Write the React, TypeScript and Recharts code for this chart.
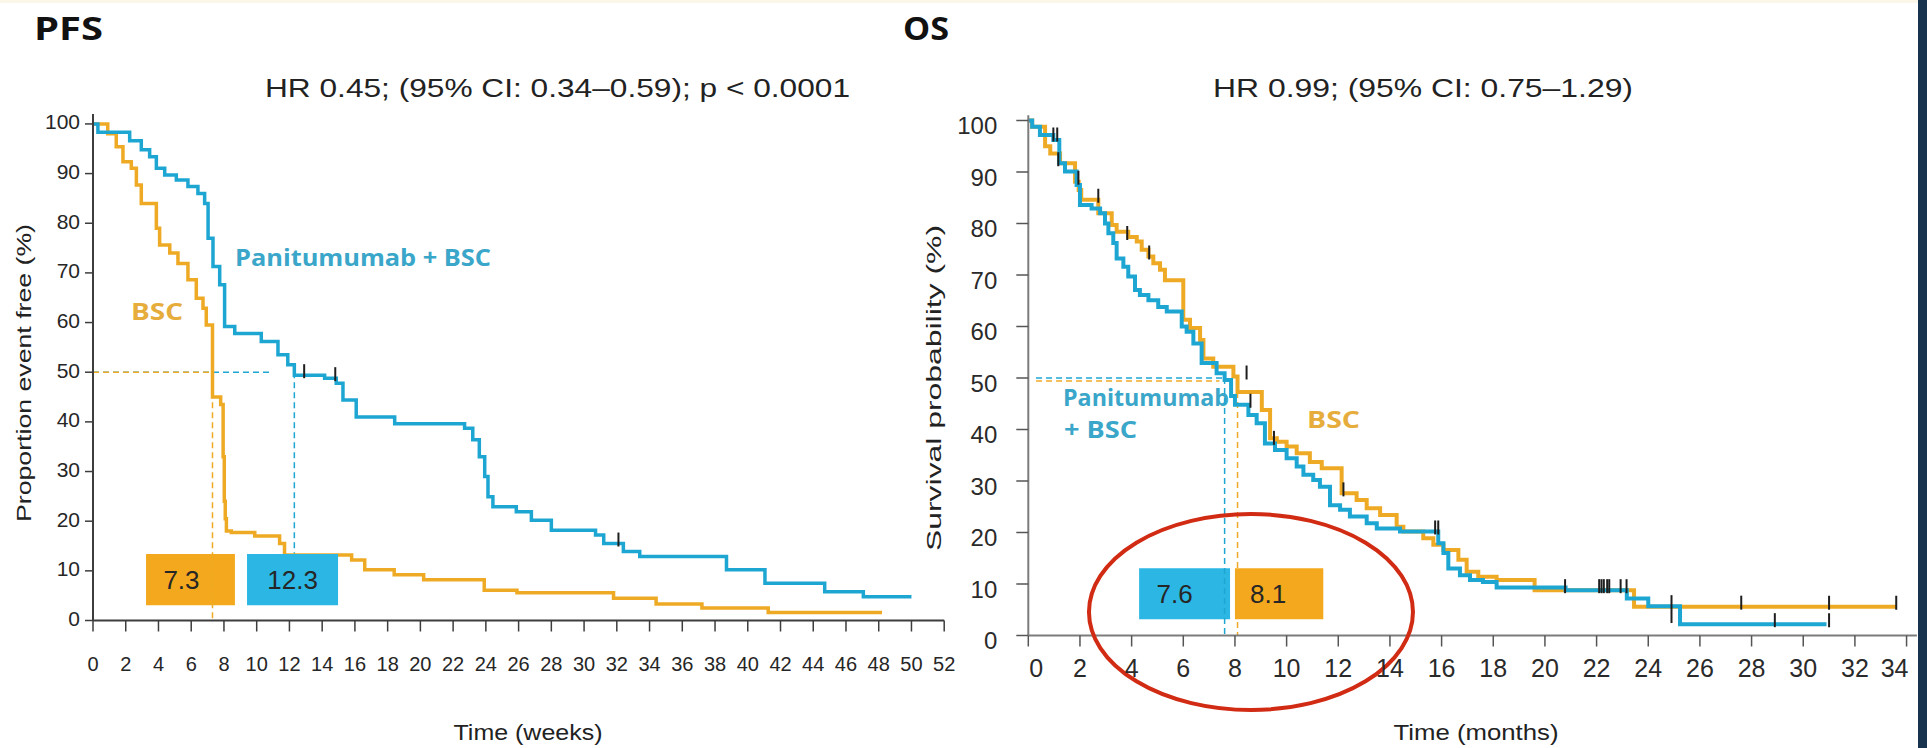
import React from 'react';
import {
  ComposedChart,
  Line,
  Scatter,
  XAxis,
  YAxis,
  ReferenceLine,
  ReferenceArea,
  ReferenceDot,
} from 'recharts';

// ---------- palette & fonts ----------
const BLUE = '#1ea6d3';
const ORANGE = '#eeaa24';
const BLUE_BOX = '#2bb6e3';
const ORANGE_BOX = '#f4a81d';
const BLUE_TEXT = '#3aa6c9';
const ORANGE_TEXT = '#e6ad3c';
const SANS = "'Liberation Sans', Arial, sans-serif";
const HEAD = "'Open Sans', 'Liberation Sans', sans-serif";

// ---------- shared ----------
const pctTicks = [0, 10, 20, 30, 40, 50, 60, 70, 80, 90, 100];

// ---------- PFS (weeks) ----------
const pfsWeekTicks = [0, 2, 4, 6, 8, 10, 12, 14, 16, 18, 20, 22, 24, 26, 28, 30, 32, 34, 36, 38, 40, 42, 44, 46, 48, 50, 52];

const pfsPanWeeks = [0, 0.3, 2.24, 2.95, 3.46, 3.87, 4.38, 5.09, 5.8, 6.41, 6.82, 7.03, 7.33, 7.74, 8.04, 8.66, 10.28, 11.3, 11.9, 12.3, 14.15, 14.86, 15.27, 16.08, 18.43, 22.7, 23.2, 23.6, 23.93, 24.13, 24.43, 25.86, 26.78, 28.0, 30.7, 31.2, 32.4, 33.4, 38.7, 41.05, 44.7, 47.06, 50.0];
const pfsPanPct = [100, 98.3, 96.6, 94.8, 93.4, 91.1, 89.7, 88.7, 87.4, 86.0, 84.0, 77.0, 71.3, 67.6, 59.2, 57.8, 56.2, 53.5, 51.5, 49.4, 48.8, 47.8, 44.4, 41.0, 39.6, 38.7, 36.4, 33.0, 29.0, 24.9, 22.9, 21.9, 20.2, 18.2, 17.2, 15.5, 13.9, 12.9, 10.2, 7.5, 5.8, 4.8, 4.8];

const pfsBscWeeks = [0, 0.9, 1.42, 1.83, 2.34, 2.65, 2.95, 3.87, 4.07, 4.69, 5.19, 5.8, 6.31, 6.72, 6.92, 7.3, 7.8, 7.95, 8.02, 8.08, 8.15, 8.45, 9.88, 11.4, 11.7, 15.8, 16.6, 18.4, 20.2, 23.9, 25.9, 31.8, 34.4, 37.2, 41.25, 48.2];
const pfsBscPct = [100, 98.0, 95.4, 92.4, 91.1, 87.7, 84.0, 79.0, 75.6, 74.0, 71.9, 68.6, 64.9, 62.9, 59.5, 45.0, 43.5, 33.0, 24.0, 20.5, 18.0, 17.7, 17.0, 15.5, 13.2, 12.2, 10.2, 9.2, 8.2, 6.1, 5.6, 4.5, 3.3, 2.5, 1.6, 1.6];

const pfsCensorWeeks = [12.9, 14.8, 32.1];
const pfsCensorPct = [49.4, 48.8, 15.5];

// medians: BSC, Panitumumab + BSC
const pfsMedianWeeks = [7.3, 12.3];

// ---------- OS (months) ----------
const osMonthTicks = [0, 2, 4, 6, 8, 10, 12, 14, 16, 18, 20, 22, 24, 26, 28, 30, 32, 34];

const osPanMonths = [0, 0.15, 0.45, 0.97, 1.2, 1.42, 1.87, 2.0, 2.45, 2.78, 2.97, 3.1, 3.29, 3.42, 3.68, 3.87, 4.13, 4.32, 4.65, 5.03, 5.36, 5.94, 6.13, 6.39, 6.71, 7.29, 7.6, 7.85, 8.0, 8.52, 8.84, 9.16, 9.55, 10.0, 10.39, 10.65, 11.03, 11.29, 11.68, 12.07, 12.45, 13.1, 13.49, 14.39, 15.87, 16.07, 16.26, 16.71, 17.1, 17.6, 18.13, 20.8, 23.17, 24.0, 25.23, 30.9];
const osPanPct = [100, 98.8, 97.2, 96.2, 91.7, 90.1, 87.5, 83.6, 82.9, 82.0, 80.0, 78.1, 76.2, 73.2, 71.6, 69.7, 67.1, 66.1, 65.1, 63.8, 62.9, 60.0, 59.0, 56.7, 52.9, 50.9, 49.6, 46.5, 44.8, 42.8, 41.2, 37.3, 36.0, 34.4, 32.8, 31.2, 30.2, 28.9, 25.3, 24.4, 23.1, 21.8, 20.8, 20.2, 17.9, 16.0, 13.0, 11.7, 10.8, 10.4, 9.3, 8.8, 7.2, 5.7, 2.2, 2.2];

const osBscMonths = [0, 0.15, 0.65, 0.85, 1.23, 1.81, 1.95, 2.05, 2.71, 3.23, 3.42, 3.87, 4.2, 4.39, 4.65, 4.84, 5.1, 5.29, 6.0, 6.26, 6.65, 6.78, 7.16, 7.94, 8.1, 9.04, 9.36, 9.62, 10.0, 10.39, 10.9, 11.36, 12.13, 12.71, 13.1, 13.62, 14.26, 14.52, 15.29, 15.68, 16.07, 16.65, 16.97, 17.42, 18.13, 19.6, 23.45, 33.6];
const osBscPct = [100, 98.8, 95.0, 93.6, 91.7, 88.1, 86.5, 84.6, 82.0, 79.7, 78.4, 77.4, 76.5, 74.9, 73.6, 72.3, 71.0, 69.0, 61.3, 59.7, 57.4, 53.8, 52.2, 50.3, 47.3, 43.8, 38.3, 37.6, 36.7, 35.4, 33.7, 32.5, 27.6, 26.3, 24.7, 23.4, 21.1, 20.2, 18.9, 17.6, 16.6, 14.7, 12.4, 11.4, 10.8, 8.8, 5.6, 5.6];

const osCensorMonths = [0.97, 1.12, 1.16, 1.94, 2.71, 3.83, 4.68, 8.45, 8.6, 9.51, 12.2, 15.75, 15.87, 20.78, 22.1, 22.19, 22.28, 22.41, 22.49, 22.93, 23.16, 24.9, 24.9, 27.6, 28.9, 31.0, 31.0, 33.6];
const osCensorPct = [96.5, 96.5, 91.7, 88.1, 84.6, 77.4, 73.6, 50.3, 44.8, 37.6, 27.6, 20.2, 20.2, 8.8, 8.8, 8.8, 8.8, 8.8, 8.8, 8.8, 8.8, 5.7, 3.0, 5.6, 2.2, 5.6, 2.2, 5.6];

// medians: Panitumumab + BSC, BSC
const osMedianMonths = [7.6, 8.1];

// ---------- helpers ----------
const toPoints = (t: number[], s: number[]) => t.map((v, i) => ({ t: v, s: s[i] }));

const pfsPan = toPoints(pfsPanWeeks, pfsPanPct);
const pfsBsc = toPoints(pfsBscWeeks, pfsBscPct);
const pfsCensor = toPoints(pfsCensorWeeks, pfsCensorPct);
const osPan = toPoints(osPanMonths, osPanPct);
const osBsc = toPoints(osBscMonths, osBscPct);
const osCensor = toPoints(osCensorMonths, osCensorPct);

const CensorMark = (props: any) => {
  const { cx, cy } = props;
  if (cx == null || cy == null) return null;
  return <line x1={cx} x2={cx} y1={cy - 11} y2={cy + 3} stroke="#1e1e1e" strokeWidth={2} />;
};

// first label nudged right of the axis, last one pulled left of the frame
const makeXTick = (fontSize: number, fill: string, firstDx: number, lastDx: number, last: number) => (props: any) => {
  const { x, y, payload } = props;
  const dx = payload.value === 0 ? firstDx : payload.value === last ? lastDx : 0;
  return (
    <text x={x + dx} y={y} textAnchor="middle" dominantBaseline="central" fontSize={fontSize} fontFamily={SANS} fill={fill}>
      {payload.value}
    </text>
  );
};

const makeYTick = (fontSize: number, fill: string, dy: number) => (props: any) => {
  const { x, y, payload } = props;
  return (
    <text x={x} y={y + dy} textAnchor="end" dominantBaseline="central" fontSize={fontSize} fontFamily={SANS} fill={fill}>
      {payload.value}
    </text>
  );
};

const BoxLabel = (props: any) => {
  const { viewBox, text, dx = 0 } = props;
  if (!viewBox) return null;
  const { x, y, width, height } = viewBox;
  return (
    <text x={x + width / 2 + dx} y={y + height / 2} textAnchor="middle" dominantBaseline="central" fontSize={26} fontFamily={SANS} fill="#262626">
      {text}
    </text>
  );
};

const Ellipse = (props: any) => {
  const { cx, cy } = props;
  if (cx == null || cy == null) return null;
  return <ellipse cx={cx} cy={cy} rx={162} ry={98} fill="none" stroke="#d12b14" strokeWidth={4} />;
};

const dash = '6 4';

// ---------- panels ----------
const PfsChart = () => {
  const [bscMed, panMed] = pfsMedianWeeks;
  return (
    <ComposedChart width={960} height={748} margin={{ top: 114, right: 15.8, left: 33, bottom: 67.5 }}>
      <XAxis
        type="number"
        dataKey="t"
        domain={[0, 52]}
        ticks={pfsWeekTicks}
        interval={0}
        allowDataOverflow
        height={60}
        tickSize={11}
        tickMargin={32}
        tick={makeXTick(20, '#262626', 0, 0, 52)}
        axisLine={{ stroke: '#3d3d3d', strokeWidth: 2 }}
        tickLine={{ stroke: '#3d3d3d', strokeWidth: 1.5 }}
      />
      <YAxis
        type="number"
        dataKey="s"
        domain={[0, 102]}
        ticks={pctTicks}
        interval={0}
        width={60}
        tickSize={8}
        tickMargin={5}
        tick={makeYTick(21, '#262626', -2)}
        axisLine={{ stroke: '#3d3d3d', strokeWidth: 2 }}
        tickLine={{ stroke: '#3d3d3d', strokeWidth: 1.5 }}
      />
      <ReferenceLine segment={[{ x: 0, y: 50 }, { x: 10.8, y: 50 }]} stroke={BLUE} strokeDasharray={dash} strokeWidth={1.5} ifOverflow="visible" />
      <ReferenceLine segment={[{ x: 0, y: 50 }, { x: bscMed, y: 50 }]} stroke={ORANGE} strokeDasharray={dash} strokeWidth={1.5} ifOverflow="visible" />
      <ReferenceLine segment={[{ x: panMed, y: 50 }, { x: panMed, y: 13.4 }]} stroke={BLUE} strokeDasharray={dash} strokeWidth={1.5} ifOverflow="visible" />
      <Line data={pfsBsc} dataKey="s" type="stepAfter" stroke={ORANGE} strokeWidth={3.5} dot={false} isAnimationActive={false} />
      <Line data={pfsPan} dataKey="s" type="stepAfter" stroke={BLUE} strokeWidth={3.5} dot={false} isAnimationActive={false} />
      <Scatter data={pfsCensor} dataKey="s" shape={<CensorMark />} isAnimationActive={false} />
      <ReferenceArea x1={3.24} x2={8.67} y1={3.06} y2={13.4} fill={ORANGE_BOX} fillOpacity={1} stroke="none" zIndex={900} label={<BoxLabel text={bscMed.toFixed(1)} dx={-9} />} />
      <ReferenceArea x1={9.41} x2={14.97} y1={3.06} y2={13.4} fill={BLUE_BOX} fillOpacity={1} stroke="none" zIndex={900} label={<BoxLabel text={panMed.toFixed(1)} dx={0} />} />
      <ReferenceLine segment={[{ x: bscMed, y: 50 }, { x: bscMed, y: 0 }]} stroke={ORANGE} strokeDasharray={dash} strokeWidth={1.5} ifOverflow="visible" zIndex={950} />
    </ComposedChart>
  );
};

const OsChart = () => {
  const [panMed, bscMed] = osMedianMonths;
  return (
    <ComposedChart width={1027} height={748} margin={{ top: 115.35, right: 10.1, left: 68.3, bottom: 52.5 }}>
      <XAxis
        type="number"
        dataKey="t"
        domain={[0, 34.4]}
        ticks={osMonthTicks}
        interval={0}
        allowDataOverflow
        height={60}
        tickSize={11}
        tickMargin={21}
        tick={makeXTick(25, '#2a2a2a', 8, -12, 34)}
        axisLine={{ stroke: '#7c7c7c', strokeWidth: 2 }}
        tickLine={{ stroke: '#555555', strokeWidth: 1.5 }}
      />
      <YAxis
        type="number"
        dataKey="s"
        domain={[0, 101]}
        ticks={pctTicks}
        interval={0}
        width={60}
        tickSize={12}
        tickMargin={19}
        tick={makeYTick(24, '#2a2a2a', 5)}
        axisLine={{ stroke: '#7c7c7c', strokeWidth: 2 }}
        tickLine={{ stroke: '#555555', strokeWidth: 1.5 }}
      />
      <ReferenceArea x1={4.29} x2={7.81} y1={3.15} y2={13.05} fill={BLUE_BOX} fillOpacity={1} stroke="none" label={<BoxLabel text={panMed.toFixed(1)} dx={-10} />} />
      <ReferenceArea x1={8.0} x2={11.42} y1={3.15} y2={13.05} fill={ORANGE_BOX} fillOpacity={1} stroke="none" label={<BoxLabel text={bscMed.toFixed(1)} dx={-11} />} />
      <ReferenceLine segment={[{ x: 0.3, y: 50 }, { x: panMed, y: 50 }]} stroke={BLUE} strokeDasharray={dash} strokeWidth={1.5} ifOverflow="visible" />
      <ReferenceLine segment={[{ x: 0.3, y: 49.4 }, { x: 7.4, y: 49.4 }]} stroke={ORANGE} strokeDasharray={dash} strokeWidth={1.5} ifOverflow="visible" />
      <ReferenceLine segment={[{ x: panMed, y: 50 }, { x: panMed, y: 0 }]} stroke={BLUE} strokeDasharray={dash} strokeWidth={1.5} ifOverflow="visible" />
      <ReferenceLine segment={[{ x: bscMed, y: 47.3 }, { x: bscMed, y: 0 }]} stroke={ORANGE} strokeDasharray={dash} strokeWidth={1.5} ifOverflow="visible" />
      <Line data={osBsc} dataKey="s" type="stepAfter" stroke={ORANGE} strokeWidth={4} dot={false} isAnimationActive={false} />
      <Line data={osPan} dataKey="s" type="stepAfter" stroke={BLUE} strokeWidth={4} dot={false} isAnimationActive={false} />
      <Scatter data={osCensor} dataKey="s" shape={<CensorMark />} isAnimationActive={false} />
      <ReferenceDot x={8.62} y={4.56} r={0} shape={<Ellipse />} ifOverflow="visible" />
    </ComposedChart>
  );
};

// text laid out underneath the plots (titles, HR lines, series names)
const Annotations = () => (
  <svg width={1927} height={748} style={{ position: 'absolute', left: 0, top: 0 }}>
    <rect x={0} y={0} width={1927} height={748} fill="#ffffff" />
    <rect x={0} y={0} width={1927} height={3} fill="#fbf7e8" />
    <rect x={1918} y={0} width={9} height={748} fill="#17334e" />

    <text x={34} y={40} fontFamily={HEAD} fontWeight={700} fontSize={32} textLength={69} lengthAdjust="spacingAndGlyphs" fill="#111">PFS</text>
    <text x={903} y={40} fontFamily={HEAD} fontWeight={700} fontSize={32} textLength={46} lengthAdjust="spacingAndGlyphs" fill="#111">OS</text>

    <text x={265} y={97} fontFamily={SANS} fontSize={26} textLength={585} lengthAdjust="spacingAndGlyphs" fill="#222">
      HR 0.45; (95% CI: 0.34–0.59); p &lt; 0.0001
    </text>
    <text x={1213} y={97} fontFamily={SANS} fontSize={26} textLength={420} lengthAdjust="spacingAndGlyphs" fill="#222">
      HR 0.99; (95% CI: 0.75–1.29)
    </text>

    <text x={235} y={266} fontFamily={HEAD} fontWeight={700} fontSize={24} textLength={256} lengthAdjust="spacingAndGlyphs" fill={BLUE_TEXT}>Panitumumab + BSC</text>
    <text x={131} y={320} fontFamily={HEAD} fontWeight={700} fontSize={24} textLength={52} lengthAdjust="spacingAndGlyphs" fill={ORANGE_TEXT}>BSC</text>

    <text x={1063} y={406} fontFamily={HEAD} fontWeight={700} fontSize={24} textLength={166} lengthAdjust="spacingAndGlyphs" fill={BLUE_TEXT}>Panitumumab</text>
    <text x={1064} y={438} fontFamily={HEAD} fontWeight={700} fontSize={24} textLength={73} lengthAdjust="spacingAndGlyphs" fill={BLUE_TEXT}>+ BSC</text>
    <text x={1307} y={428} fontFamily={HEAD} fontWeight={700} fontSize={24} textLength={53} lengthAdjust="spacingAndGlyphs" fill={ORANGE_TEXT}>BSC</text>

    <text x={528} y={740} textAnchor="middle" fontFamily={SANS} fontSize={22} textLength={149} lengthAdjust="spacingAndGlyphs" fill="#222">Time (weeks)</text>
    <text x={1476} y={740} textAnchor="middle" fontFamily={SANS} fontSize={22} textLength={165} lengthAdjust="spacingAndGlyphs" fill="#222">Time (months)</text>

    <text transform="translate(31 373) rotate(-90)" textAnchor="middle" fontFamily={SANS} fontSize={20} textLength={298} lengthAdjust="spacingAndGlyphs" fill="#222">
      Proportion event free (%)
    </text>
    <text transform="translate(941 388) rotate(-90)" textAnchor="middle" fontFamily={SANS} fontSize={20} textLength={326} lengthAdjust="spacingAndGlyphs" fill="#222">
      Survival probability (%)
    </text>
  </svg>
);

export default function App() {
  return (
    <div style={{ position: 'absolute', left: 0, top: 0, width: 1927, height: 748, overflow: 'hidden', background: '#fff' }}>
      <Annotations />
      <div style={{ position: 'absolute', left: 0, top: 0 }}>
        <PfsChart />
      </div>
      <div style={{ position: 'absolute', left: 900, top: 0 }}>
        <OsChart />
      </div>
    </div>
  );
}
